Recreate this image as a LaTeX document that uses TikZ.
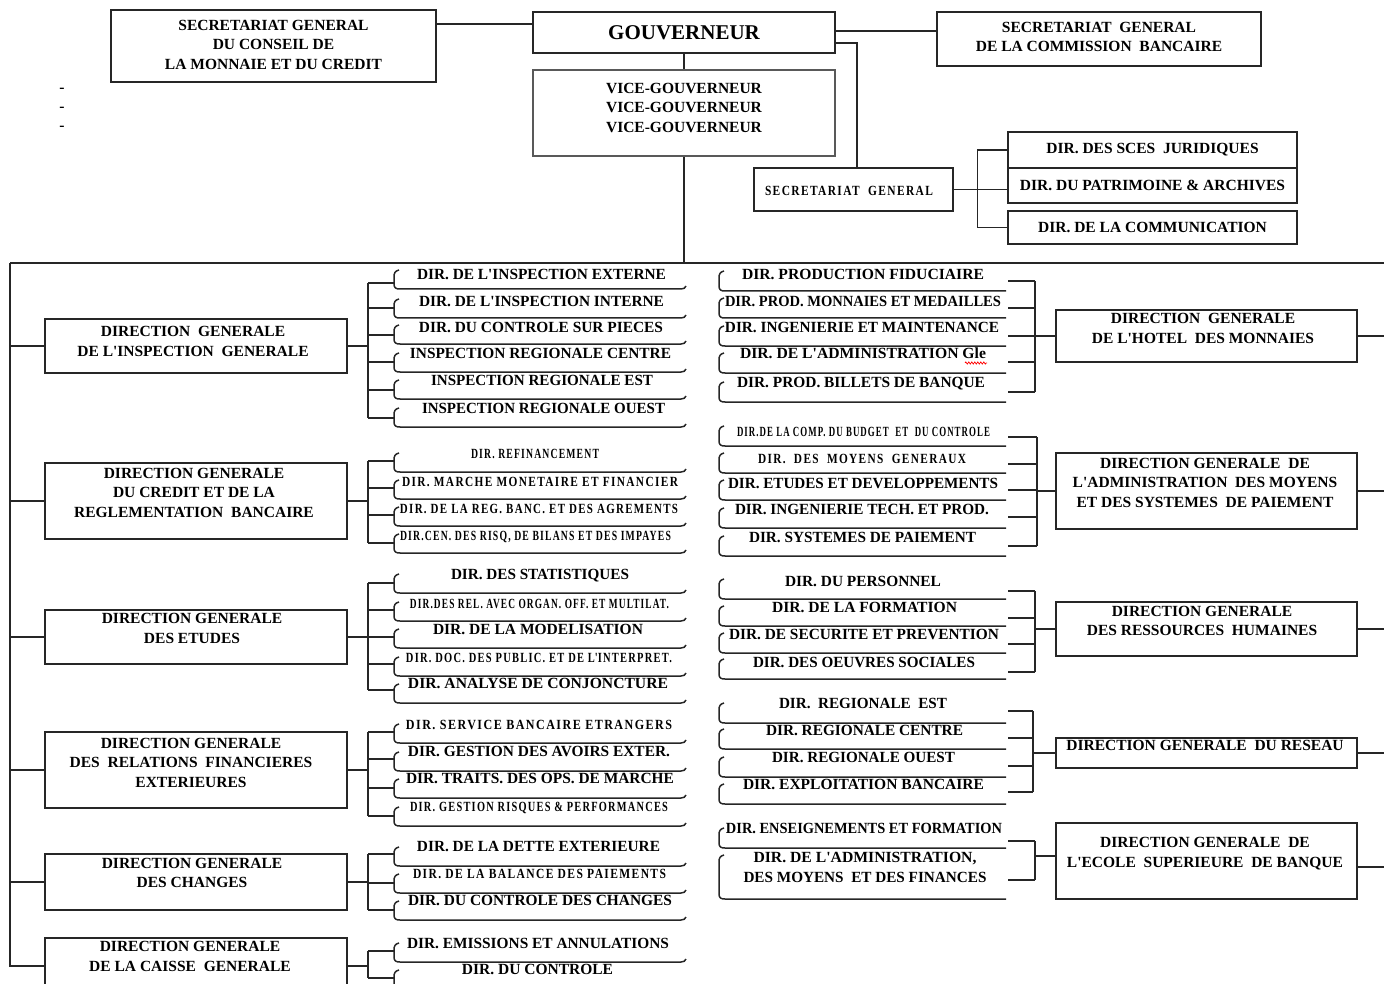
\documentclass[tikz,border=0pt]{standalone}
\usepackage{graphicx}
\usepackage{fontspec}
\setmainfont{Liberation Serif}
\newfontfamily\lsfont{Liberation Serif}[LetterSpace=12]
\usetikzlibrary{decorations.pathmorphing}

% text squeezed or stretched horizontally to a given width (in pt)
\newcommand\fw[2]{\resizebox{#1pt}{\height}{#2}}
\newcommand\apos{\textquotesingle}

\tikzset{
  ln/.style={line width=1.5pt, draw=black!85},
  box/.style={draw=black!85, line width=1.5pt, rectangle, inner sep=0pt},
  txt/.style={inner sep=0pt, align=center, text=black,
              font=\fontsize{15.5}{19.5}\selectfont\bfseries},
  big/.style={},
  small/.style={font=\fontsize{14}{16}\lsfont\bfseries},
}

% empty box from its corners
\newcommand\bx[5]{\node[box, minimum width={#4-#2}, minimum height={#5-#3}] (#1) at ({(#2+#4)/2},{(#3+#5)/2}) {};}
% box with its one-line text
\newcommand\bxt[6]{\node[txt, box, minimum width={#4-#2}, minimum height={#5-#3}] (#1) at ({(#2+#4)/2},{(#3+#5)/2}) {#6};}

% bracket under a left-hand direction: curl at x=394, rule to x=686
\newcommand\lbr[1]{\draw[ln] (399,#1-19) .. controls (395,#1-18) and (394,#1-16) .. (394,#1-12) -- (394,#1-5) .. controls (394,#1-1) and (396,#1) .. (400,#1) -- (681,#1) .. controls (684,#1) and (685,#1-1) .. (686,#1-3);}
% bracket under a right-hand direction: curl at x=719, rule to x=1006
\newcommand\rbr[2]{\draw[ln] (724,#1-#2) .. controls (720,#1-#2+1) and (719,#1-#2+3) .. (719,#1-#2+7) -- (719,#1-5) .. controls (719,#1-1) and (721,#1) .. (725,#1) -- (1006,#1);}

% left direction: name, centre x, width, text y, rule y, stub y, style, text
\newcommand\litem[8]{%
  \node[txt,#7,anchor=base] (#1) at (#2,#4+5) {\fw{#3}{#8}};
  \coordinate (#1-s) at (394,#6);
  \lbr{#5}}
% right direction: name, centre x, width, text y, rule y, curl height, stub y, style, text
\newcommand\ritem[9]{%
  \node[txt,#8,anchor=base] (#1) at (#2,#4+5) {\fw{#3}{#9}};
  \coordinate (#1-s) at (1008,#7);
  \rbr{#5}{#6}}

% fan: head anchor, trunk, first, last, all directions
\newcommand\fan[5]{%
  \draw[ln] (#1) -- (#1 -| #2);
  \draw[ln] (#3-s -| #2) -- (#4-s -| #2);
  \foreach \nn in {#5} \draw[ln] (\nn-s -| #2) -- (\nn-s);}

\begin{document}
\begin{tikzpicture}[x=1pt,y=-1pt]
\useasboundingbox (0,0) rectangle (1384,984);
\clip (0,0) rectangle (1384,984);

% ---------- top management ----------
\bx{sgc}{111}{10}{436}{82}
\node[txt] (sgc-t) at (273.5,44.5) {SECRETARIAT GENERAL\\DU CONSEIL DE\\LA MONNAIE ET DU CREDIT};
\node[box, minimum width=302, minimum height=41, font=\fontsize{21}{24}\selectfont\bfseries] (gouv) at (684,32.5) {GOUVERNEUR};
\bx{sgb}{937}{12}{1261}{66}
\node[txt] (sgb-t) at (1099,37) {SECRETARIAT\ \ GENERAL\\DE LA COMMISSION\ \ BANCAIRE};
\node[box, draw=black!65, line width=2.2pt, minimum width=302, minimum height=86] (vg) at (684,113) {};
\node[txt] (vg-t) at (684,107.5) {VICE-GOUVERNEUR\\VICE-GOUVERNEUR\\VICE-GOUVERNEUR};
\bx{sgg}{754}{168}{953}{211}
\node[txt,small,anchor=base] (sgg-t) at (849,196) {\fw{168}{SECRETARIAT\ \ GENERAL}};
\bxt{jur}{1008}{132}{1297}{168}{DIR. DES SCES\ \ JURIDIQUES}
\bxt{pat}{1008}{168}{1297}{203}{DIR. DU PATRIMOINE \& ARCHIVES}
\bxt{com}{1008}{211}{1297}{244}{DIR. DE LA COMMUNICATION}

\node[txt] (dash1) at (62,90) {-};
\node[txt] (dash2) at (62,109) {-};
\node[txt] (dash3) at (62,128) {-};

% ---------- general directorates, left ----------
\bx{insp}{45}{319}{347}{373}
\node[txt] (insp-t) at (193,341.5) {DIRECTION\ \ GENERALE\\DE L\apos INSPECTION\ \ GENERALE};
\bx{cred}{45}{463}{347}{539}
\node[txt] (cred-t) at (194,492.5) {DIRECTION GENERALE\\DU CREDIT ET DE LA\\REGLEMENTATION\ \ BANCAIRE};
\bx{etud}{45}{610}{347}{664}
\node[txt] (etud-t) at (192,628.5) {DIRECTION GENERALE\\DES ETUDES};
\bx{rel}{45}{732}{347}{808}
\node[txt] (rel-t) at (191,762.5) {DIRECTION GENERALE\\DES\ \ RELATIONS\ \ FINANCIERES\\EXTERIEURES};
\bx{chg}{45}{854}{347}{910}
\node[txt] (chg-t) at (192,873) {DIRECTION GENERALE\\DES CHANGES};
\bx{cais}{45}{938}{347}{994}
\node[txt] (cais-t) at (190,956.5) {DIRECTION GENERALE\\DE LA CAISSE\ \ GENERALE};

% ---------- general directorates, right ----------
\bx{hot}{1056}{310}{1357}{362}
\node[txt] (hot-t) at (1203,328.5) {DIRECTION\ \ GENERALE\\DE L\apos HOTEL\ \ DES MONNAIES};
\bx{adm}{1056}{453}{1357}{529}
\node[txt] (adm-t) at (1205,482.5) {DIRECTION GENERALE\ \ DE\\L\apos ADMINISTRATION\ \ DES MOYENS\\ET DES SYSTEMES\ \ DE PAIEMENT};
\bx{rh}{1056}{602}{1357}{656}
\node[txt] (rh-t) at (1202,621) {DIRECTION GENERALE\\DES RESSOURCES\ \ HUMAINES};
\bx{res}{1056}{738}{1357}{768}
\node[txt,anchor=base] (res-t) at (1205,750) {DIRECTION GENERALE\ \ DU RESEAU};
\bx{esb}{1056}{823}{1357}{899}
\node[txt] (esb-t) at (1205,853.5) {DIRECTION GENERALE\ \ DE\\L\apos ECOLE\ \ SUPERIEURE\ \ DE BANQUE};

% ---------- directions ----------
\litem{i1}{541.5}{249}{275}{289}{283}{big}{DIR. DE L\apos INSPECTION EXTERNE}
\litem{i2}{541.5}{245}{302}{318}{308}{big}{DIR. DE L\apos INSPECTION INTERNE}
\litem{i3}{541}{244}{327}{344}{335}{big}{DIR. DU CONTROLE SUR PIECES}
\litem{i4}{540.5}{261}{353}{372}{362}{big}{INSPECTION REGIONALE CENTRE}
\litem{i5}{542}{222}{380}{399}{390}{big}{INSPECTION REGIONALE EST}
\litem{i6}{543.5}{243}{408}{427}{418}{big}{INSPECTION REGIONALE OUEST}

\litem{c1}{535}{128}{453}{472}{461}{small}{DIR. REFINANCEMENT}
\litem{c2}{540}{276}{481}{499}{488}{small}{DIR. MARCHE MONETAIRE ET FINANCIER}
\litem{c3}{539}{278}{508}{526}{515}{small}{DIR. DE LA REG. BANC. ET DES AGREMENTS}
\litem{c4}{535.5}{271}{535}{553}{543}{small}{DIR.CEN. DES RISQ, DE BILANS ET DES IMPAYES}

\litem{e1}{540}{178}{574}{593}{583}{big}{DIR. DES STATISTIQUES}
\litem{e2}{539.5}{259}{603}{621}{610}{small}{DIR.DES REL. AVEC ORGAN. OFF. ET MULTILAT.}
\litem{e3}{538}{210}{629}{648}{637}{big}{DIR. DE LA MODELISATION}
\litem{e4}{539}{266}{657}{676}{664}{small}{DIR. DOC. DES PUBLIC. ET DE L\apos INTERPRET.}
\litem{e5}{538}{260}{683}{703}{690}{big}{DIR. ANALYSE DE CONJONCTURE}

\litem{r1}{539}{266}{724}{743}{732}{small}{DIR. SERVICE BANCAIRE ETRANGERS}
\litem{r2}{539}{262}{751}{771}{759}{big}{DIR. GESTION DES AVOIRS EXTER.}
\litem{r3}{540}{268}{778}{798}{788}{big}{DIR. TRAITS. DES OPS. DE MARCHE}
\litem{r4}{539}{258}{806}{826}{816}{small}{DIR. GESTION RISQUES \& PERFORMANCES}

\litem{x1}{538.5}{243}{846}{866}{854}{big}{DIR. DE LA DETTE EXTERIEURE}
\litem{x2}{539.5}{253}{873}{893}{883}{small}{DIR. DE LA BALANCE DES PAIEMENTS}
\litem{x3}{540}{264}{900}{920}{910}{big}{DIR. DU CONTROLE DES CHANGES}

\litem{k1}{538}{262}{943}{962}{951}{big}{DIR. EMISSIONS ET ANNULATIONS}
\litem{k2}{537.5}{151}{969}{989}{978}{big}{DIR. DU CONTROLE}

\ritem{h1}{863}{242}{275}{291}{20}{281}{big}{DIR. PRODUCTION FIDUCIAIRE}
\ritem{h2}{863}{276}{302}{318}{20}{308}{big}{DIR. PROD. MONNAIES ET MEDAILLES}
\ritem{h3}{862}{274}{327}{346}{20}{336}{big}{DIR. INGENIERIE ET MAINTENANCE}
\ritem{h4}{863}{246}{354}{373}{20}{362}{big}{DIR. DE L\apos ADMINISTRATION Gle}
\ritem{h5}{861}{248}{382}{402}{20}{392}{big}{DIR. PROD. BILLETS DE BANQUE}
\draw[red, line width=0.7pt, decorate, decoration={zigzag, amplitude=1.1pt, segment length=3pt}] (965,363) -- (987,363);

\ritem{a1}{863.5}{253}{431}{446}{20}{437}{small}{DIR.DE LA COMP. DU BUDGET\ \ ET\ \ DU CONTROLE}
\ritem{a2}{862}{208}{458}{473}{20}{464}{small}{DIR.\ \ DES\ \ MOYENS\ \ GENERAUX}
\ritem{a3}{863}{270}{483}{500}{20}{490}{big}{DIR. ETUDES ET DEVELOPPEMENTS}
\ritem{a4}{862}{254}{509}{528}{20}{517}{big}{DIR. INGENIERIE TECH. ET PROD.}
\ritem{a5}{862.5}{227}{537}{556}{20}{546}{big}{DIR. SYSTEMES DE PAIEMENT}

\ritem{p1}{863}{156}{581}{599}{20}{591}{big}{DIR. DU PERSONNEL}
\ritem{p2}{864.5}{185}{607}{626}{20}{618}{big}{DIR. DE LA FORMATION}
\ritem{p3}{864}{270}{634}{653}{20}{644}{big}{DIR. DE SECURITE ET PREVENTION}
\ritem{p4}{864}{222}{662}{679}{20}{672}{big}{DIR. DES OEUVRES SOCIALES}

\ritem{n1}{863}{168}{703}{723}{20}{711}{big}{DIR.\ \ REGIONALE\ \ EST}
\ritem{n2}{864.5}{197}{730}{749}{20}{738}{big}{DIR. REGIONALE CENTRE}
\ritem{n3}{863.5}{183}{757}{777}{20}{766}{big}{DIR. REGIONALE OUEST}
\ritem{n4}{863.5}{241}{784}{804}{20}{792}{big}{DIR. EXPLOITATION BANCAIRE}

\ritem{s1}{864}{276}{828}{848}{20}{841}{big}{DIR. ENSEIGNEMENTS ET FORMATION}
\node[txt] (s2) at (865,867.5) {\fw{223}{DIR. DE L\apos ADMINISTRATION,}\\\fw{243}{DES MOYENS\ \ ET DES FINANCES}};
\coordinate (s2-s) at (1008,880);
\rbr{899}{44}

% ---------- connectors ----------
\coordinate (busL) at (10,263);
\coordinate (busR) at (1384,263);
\coordinate (tL) at (368,0);
\coordinate (tR) at (1035,0);
\coordinate (tRa) at (1037,0);
\coordinate (tRn) at (1033,0);

\coordinate (g1) at ([yshift=8.5pt]gouv.west);
\coordinate (g2) at ([yshift=1.5pt]gouv.east);
\coordinate (g3) at ([yshift=-10.5pt]gouv.east);
\coordinate (g3d) at ([xshift=3.5pt]sgg.north);
\draw[ln] (g1) -- (g1 -| sgc.east);
\draw[ln] (g2) -- (g2 -| sgb.west);
\draw[ln] (g3) -| (g3d);
\draw[ln] (gouv.south) -- (vg.north);
\draw[ln] (vg.south) -- (vg.south |- busL);
\draw[ln] (busL) -- (busR);
\draw[ln] (sgg.east) -- (sgg.east -| pat.west);
\draw[ln] (jur.west) -- ++(-30,0) |- (com.west);

\draw[ln] (busL) |- (cais.west);
\foreach \d in {insp,cred,etud,rel,chg} \draw[ln] (\d.west -| busL) -- (\d.west);
\foreach \d in {hot,adm,rh,res} \draw[ln] (\d.east) -- (\d.east -| busR);
\coordinate (esbR) at ([yshift=-6pt]esb.east);
\coordinate (esbL) at ([yshift=5pt]esb.west);
\draw[ln] (esbR) -- (esbR -| busR);

\fan{insp.east}{tL}{i1}{i6}{i1,i2,i3,i4,i5,i6}
\fan{cred.east}{tL}{c1}{c4}{c1,c2,c3,c4}
\fan{etud.east}{tL}{e1}{e5}{e1,e2,e3,e4,e5}
\fan{rel.east}{tL}{r1}{r4}{r1,r2,r3,r4}
\fan{chg.east}{tL}{x1}{x3}{x1,x2,x3}
\fan{cais.east}{tL}{k1}{k2}{k1,k2}
\fan{hot.west}{tR}{h1}{h5}{h1,h2,h3,h4,h5}
\fan{adm.west}{tRa}{a1}{a5}{a1,a2,a3,a4,a5}
\fan{rh.west}{tR}{p1}{p4}{p1,p2,p3,p4}
\fan{res.west}{tRn}{n1}{n4}{n1,n2,n3,n4}
\fan{esbL}{tR}{s1}{s2}{s1,s2}
\end{tikzpicture}
\end{document}
